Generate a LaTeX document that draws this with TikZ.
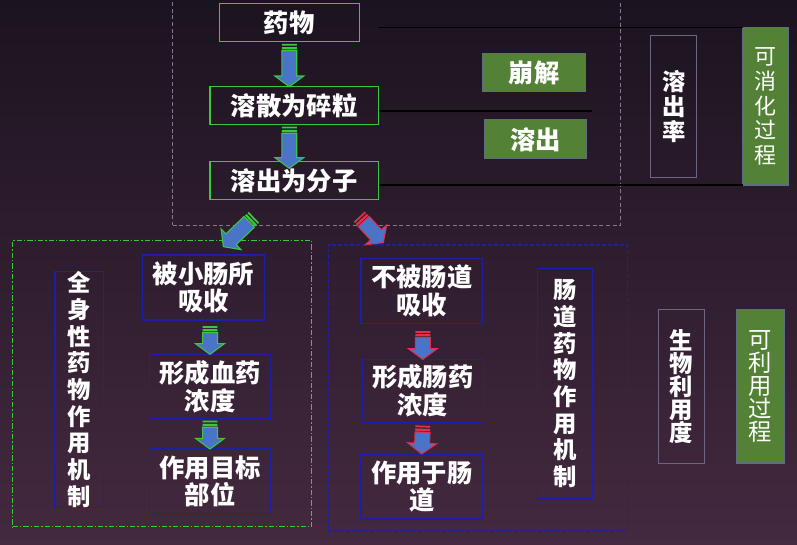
\documentclass[tikz,border=0pt]{standalone}
\usepackage{fontspec}
\usepackage{xcolor}
\usepackage{tikz}
\usetikzlibrary{calc}
\newfontfamily\cjk{Noto Sans CJK SC}
\definecolor{bgtop}{HTML}{1C1320}
\definecolor{bgmid}{HTML}{38223A}
\definecolor{bgbot}{HTML}{44293F}
\definecolor{grn}{HTML}{3CC83C}
\definecolor{leaf}{HTML}{538135}
\definecolor{leafedge}{HTML}{5E6E7E}
\definecolor{navy}{HTML}{1E1EA8}
\definecolor{slate}{HTML}{6C6680}
\definecolor{fog}{HTML}{857A8A}
\definecolor{arw}{HTML}{4A74C8}
\definecolor{rd}{HTML}{E0304C}

\newcommand\fatarrow[3]{%
  \fill[#1] let \p1=(#2), \p2=(#3), \n1={atan2(\y2-\y1,\x2-\x1)} in
    [shift={(\p1)},rotate=\n1] (0pt,-5.6pt) -- (1.3pt,-5.6pt) -- (1.3pt,5.6pt) -- (0pt,5.6pt) -- cycle
    (2.3pt,-5.6pt) -- (4pt,-5.6pt) -- (4pt,5.6pt) -- (2.3pt,5.6pt) -- cycle;
  \draw[#1,fill=arw,line width=0.8pt,line join=miter] let \p1=(#2), \p2=(#3), \n1={atan2(\y2-\y1,\x2-\x1)}, \n2={veclen(\x2-\x1,\y2-\y1)} in
    [shift={(\p1)},rotate=\n1] (4.9pt,-5.6pt) -- ({(\n2-8)*1pt},-5.6pt) -- ({(\n2-8)*1pt},-10.8pt) -- ({\n2*1pt},0pt)
    -- ({(\n2-8)*1pt},10.8pt) -- ({(\n2-8)*1pt},5.6pt) -- (4.9pt,5.6pt) -- cycle;
}

\begin{document}
\begin{tikzpicture}[x=0.75pt,y=-0.75pt,every node/.style={text=white,inner sep=0pt,outer sep=0pt},
  g/.style={draw=grn,line width=1pt,font=\cjk\bfseries\fontsize{19}{20.6}\selectfont},
  n/.style={draw=navy,line width=0.9pt,align=center,font=\cjk\bfseries\fontsize{19}{20.6}\selectfont},
  v/.style={draw=navy,line width=0.9pt,align=center,font=\cjk\bfseries\fontsize{17.5}{20}\selectfont},
  lf/.style={fill=leaf,draw=leafedge,line width=0.8pt,font=\cjk\bfseries\fontsize{19}{20.6}\selectfont},
  lfv/.style={fill=leaf,draw=leafedge,line width=0.8pt,align=center},
  sl/.style={draw=slate,line width=0.7pt,align=center},
  r/.style={black,line width=0.8pt}]
  \useasboundingbox (0,0) rectangle (797,545);
  \shade[top color=bgtop,middle color=bgmid,bottom color=bgbot] (0,0) rectangle (797,545);

  \node[draw=fog,line width=0.6pt,dash pattern=on 3pt off 2pt,minimum width=336pt,minimum height=172.7pt] (topframe) at (396.7,110.2) {};
  \node[draw=grn,line width=0.8pt,dash pattern=on 4pt off 1.5pt on 1pt off 1.5pt,minimum width=224.3pt,minimum height=214.5pt] (sysframe) at (162.2,383.7) {};
  \node[draw=navy,line width=0.8pt,dash pattern=on 3pt off 1.5pt,minimum width=224.3pt,minimum height=214.5pt] (gutframe) at (477.8,388) {};

  \node[g,minimum width=105pt,minimum height=28.8pt] (drug) at (289.3,22.5) {药物};
  \node[g,minimum width=126.5pt,minimum height=28.5pt] (frag) at (294.3,105.7) {溶散为碎粒};
  \node[g,minimum width=126.5pt,minimum height=28.5pt] (mol) at (294.3,180.3) {溶出为分子};
  \node[lf,minimum width=77.5pt,minimum height=28.8pt] (beng) at (534,72.5) {崩解};
  \node[lf,minimum width=76.8pt,minimum height=29pt] (rongchu) at (535.5,139.3) {溶出};
  \node[sl,minimum width=34.5pt,minimum height=105.8pt,font=\cjk\bfseries\fontsize{17.5}{18.5}\selectfont] (rate) at (673.7,106.5) {溶\\出\\率};
  \node[lfv,minimum width=34pt,minimum height=117.8pt,font=\cjk\fontsize{16.5}{18.5}\selectfont] (digest) at (765.3,106.5) {可\\消\\化\\过\\程};
  \node[sl,minimum width=34.5pt,minimum height=114.8pt,font=\cjk\bfseries\fontsize{17.5}{17.3}\selectfont] (bio) at (681,386.5) {生\\物\\利\\用\\度};
  \node[lfv,minimum width=35.3pt,minimum height=114.8pt,font=\cjk\fontsize{17.5}{17.3}\selectfont] (usable) at (760.5,386.5) {可\\利\\用\\过\\程};

  \node[v,minimum width=36.5pt,minimum height=173.3pt] (sys) at (79.3,389.5) {全\\身\\性\\药\\物\\作\\用\\机\\制};
  \node[n,minimum width=91.2pt,minimum height=48.8pt] (abs1) at (203.5,287.5) {被小肠所\\吸收};
  \node[n,minimum width=91pt,minimum height=48.5pt] (blood) at (210,386.7) {形成血药\\浓度};
  \node[n,minimum width=91pt,minimum height=48.2pt] (target) at (210,481.2) {作用目标\\部位};
  \node[n,minimum width=91pt,minimum height=48.8pt] (abs2) at (421.7,290.8) {不被肠道\\吸收};
  \node[n,minimum width=90.8pt,minimum height=47.5pt] (gutc) at (422.8,391) {形成肠药\\浓度};
  \node[n,minimum width=91pt,minimum height=48.8pt] (gutact) at (421.7,486.5) {作用于肠\\道};
  \node[v,minimum width=41.5pt,minimum height=173pt] (gut) at (565,383.7) {肠\\道\\药\\物\\作\\用\\机\\制};

  \draw[r] (digest.north west) -- (digest.north west -| frag.east);
  \draw[r] ($(frag.east)+(0,5.3)$) -- ++(213.6,0);
  \draw[r] (digest.south west) -- (digest.south west -| mol.east);

  \coordinate (d1) at ($(drug.south)+(0,2.3)$);
  \coordinate (d2) at (drug.south |- frag.north);
  \coordinate (f1) at ($(drug.south |- frag.south)+(0,2)$);
  \coordinate (f2) at ($(drug.south |- mol.north)+(0,7)$);
  \coordinate (m1) at ($(mol.south west)+(44,18)$);
  \coordinate (m2) at ($(abs1.north west)+(80.6,-8.3)$);
  \coordinate (m3) at ($(mol.south east)+(-19.4,17.4)$);
  \coordinate (m4) at ($(abs2.north west)+(22.3,-15.6)$);
  \coordinate (s1) at ($(blood.north |- abs1.south)+(0,6)$);
  \coordinate (s2) at ($(blood.south)+(0,1.7)$);
  \coordinate (u1) at ($(gutc.north |- abs2.south)+(0,7.7)$);
  \coordinate (u2) at ($(gutc.south)+(0,3)$);

  \fatarrow{grn}{d1}{d2}
  \fatarrow{grn}{f1}{f2}
  \fatarrow{grn}{m1}{m2}
  \fatarrow{rd}{m3}{m4}
  \fatarrow{grn}{s1}{blood.north}
  \fatarrow{grn}{s2}{target.north}
  \fatarrow{rd}{u1}{gutc.north}
  \fatarrow{rd}{u2}{gutact.north}
\end{tikzpicture}
\end{document}
